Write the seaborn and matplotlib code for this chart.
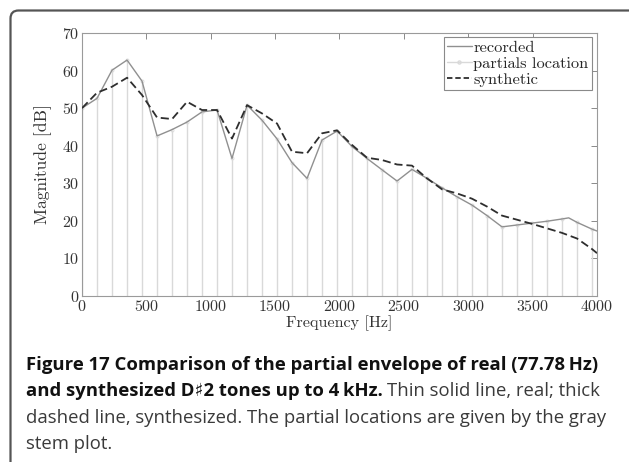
import numpy as np
import pandas as pd
import matplotlib.pyplot as plt
import seaborn as sns
from matplotlib.patches import FancyBboxPatch
from matplotlib.lines import Line2D

# --- data ---
partial_freq = [0, 116.5, 233, 350, 466, 583, 700, 816, 932, 1049, 1165, 1282,
                1398, 1515, 1631, 1748, 1864, 1981, 2097, 2214, 2330, 2447, 2563,
                2680, 2796, 2913, 3029, 3146, 3262, 3379, 3495, 3612, 3728, 3845, 3961]
partial_mag = [50.0, 52.6, 60.1, 62.8, 57.2, 42.6, 44.3, 46.3, 49.0, 49.5, 36.6, 50.8,
               46.8, 41.8, 35.5, 31.3, 41.5, 43.9, 39.8, 36.6, 33.6, 30.6, 33.7,
               31.3, 28.8, 26.4, 24.2, 21.4, 18.4, 18.9, 19.4, 19.9, 20.5, 19.7, 17.8]

rec_freq = partial_freq[:33] + [3780, 3845, 3961, 4000]
rec_mag = partial_mag[:33] + [20.8, 19.6, 17.8, 17.3]

syn_freq = [0, 116.5, 233, 350, 466, 583, 700, 816, 932, 1049, 1165, 1282,
            1398, 1515, 1631, 1748, 1864, 1981, 2097, 2214, 2330, 2447, 2563,
            2680, 2796, 2913, 3029, 3146, 3262, 3379, 3495, 3612, 3728, 3845, 3961, 4000]
syn_mag = [50.0, 54.1, 55.7, 58.1, 53.5, 47.5, 47.1, 51.7, 49.5, 49.5, 41.9, 50.8,
           48.6, 45.9, 38.4, 38.0, 43.3, 44.1, 40.2, 36.8, 36.2, 35.0, 34.7,
           31.3, 28.4, 27.3, 25.9, 23.8, 21.4, 20.3, 19.2, 18.0, 16.8, 15.3, 12.5, 11.4]

x_ticks = [0, 500, 1000, 1500, 2000, 2500, 3000, 3500, 4000]
y_ticks = [0, 10, 20, 30, 40, 50, 60, 70]

rec = pd.DataFrame({"freq": rec_freq, "mag": rec_mag})
syn = pd.DataFrame({"freq": syn_freq, "mag": syn_mag})

sns.set_style("white")
plt.rcParams['font.family'] = ['cmr10', 'DejaVu Serif']
plt.rcParams['axes.formatter.use_mathtext'] = True

fig = plt.figure(figsize=(6.29, 4.62), dpi=100)
ax = fig.add_axes([82 / 629, 1 - 296 / 462, (597 - 82) / 629, (296 - 33) / 462])

# outer rounded frame
frame = FancyBboxPatch((0.105, -0.5), 7.0, 4.62 - 0.105 + 0.5,
                       boxstyle="round,pad=0,rounding_size=0.08",
                       transform=fig.dpi_scale_trans, facecolor="none",
                       edgecolor="#555555", linewidth=1.6, zorder=0)
fig.patches.append(frame)

# stems
ax.vlines(partial_freq, 0, partial_mag, colors="#d9d9d9", linewidth=1.0, zorder=1)
ax.plot(partial_freq, partial_mag, linestyle="none", marker="o", markersize=2.2,
        markerfacecolor="none", markeredgecolor="#d9d9d9", markeredgewidth=0.6, zorder=1)

sns.lineplot(data=rec, x="freq", y="mag", ax=ax, color="#909090", linewidth=1.0,
             estimator=None, sort=False, zorder=3)
sns.lineplot(data=syn, x="freq", y="mag", ax=ax, color="#2e2e2e", linewidth=1.3,
             estimator=None, sort=False, zorder=4)
ax.lines[-1].set_dashes((4.5, 2.2))

ax.set_xlim(0, 4000)
ax.set_ylim(0, 70)
ax.set_xticks(x_ticks)
ax.set_yticks(y_ticks)
ax.set_xlabel("Frequency [Hz]", fontsize=11.6, labelpad=1, color="#333333")
ax.set_ylabel("Magnitude [dB]", fontsize=12.6, labelpad=7, color="#333333")
ax.tick_params(direction="in", length=4, width=0.7, color="#8a8a8a", labelsize=11.5,
               labelcolor="#333333", top=True, right=True, pad=2)
for s in ax.spines.values():
    s.set_color("#9a9a9a")
    s.set_linewidth(0.8)

handles = [Line2D([], [], color="#909090", linewidth=1.0),
           Line2D([], [], color="#d9d9d9", linewidth=1.0, marker="o", markersize=2.2,
                  markerfacecolor="none", markevery=[1]),
           Line2D([], [], color="#2e2e2e", linewidth=1.3, dashes=(3, 1.6))]
leg = ax.legend(handles, ["recorded", "partials location", "synthetic"],
                loc="upper right", bbox_to_anchor=(0.99, 0.985), fontsize=11.8,
                frameon=True, fancybox=False, edgecolor="#8a8a8a", framealpha=1,
                borderpad=0.2, labelspacing=0.1, handlelength=1.5, handletextpad=0.1,
                borderaxespad=0.0)
leg.get_frame().set_linewidth(0.8)

# caption
cap_font = ['Open Sans', 'DejaVu Sans']
fs = 13.3
lines_y = [365, 391, 418, 444]
x0 = 26 / 629
t1 = fig.text(x0, 1 - lines_y[0] / 462, "Figure 17 Comparison of the partial envelope of real (77.78\u2009Hz)",
              family=cap_font, weight="bold", fontsize=fs, va="center", color="#111111")
t2 = fig.text(x0, 1 - lines_y[1] / 462, "and synthesized D\u266f2 tones up to 4\u2009kHz.",
              family=cap_font, weight="bold", fontsize=fs, va="center", color="#111111")
fig.canvas.draw()
bb = t2.get_window_extent(renderer=fig.canvas.get_renderer())
fig.text(bb.x1 / fig.bbox.width + 4 / 629, 1 - lines_y[1] / 462, "Thin solid line, real; thick",
         family=cap_font, fontsize=fs, va="center", color="#3a3a3a")
fig.text(x0, 1 - lines_y[2] / 462,
         "dashed line, synthesized. The partial locations are given by the gray",
         family=cap_font, fontsize=fs, va="center", color="#3a3a3a")
fig.text(x0, 1 - lines_y[3] / 462, "stem plot.",
         family=cap_font, fontsize=fs, va="center", color="#3a3a3a")

fig.savefig("out.png", dpi=100, facecolor="white")
